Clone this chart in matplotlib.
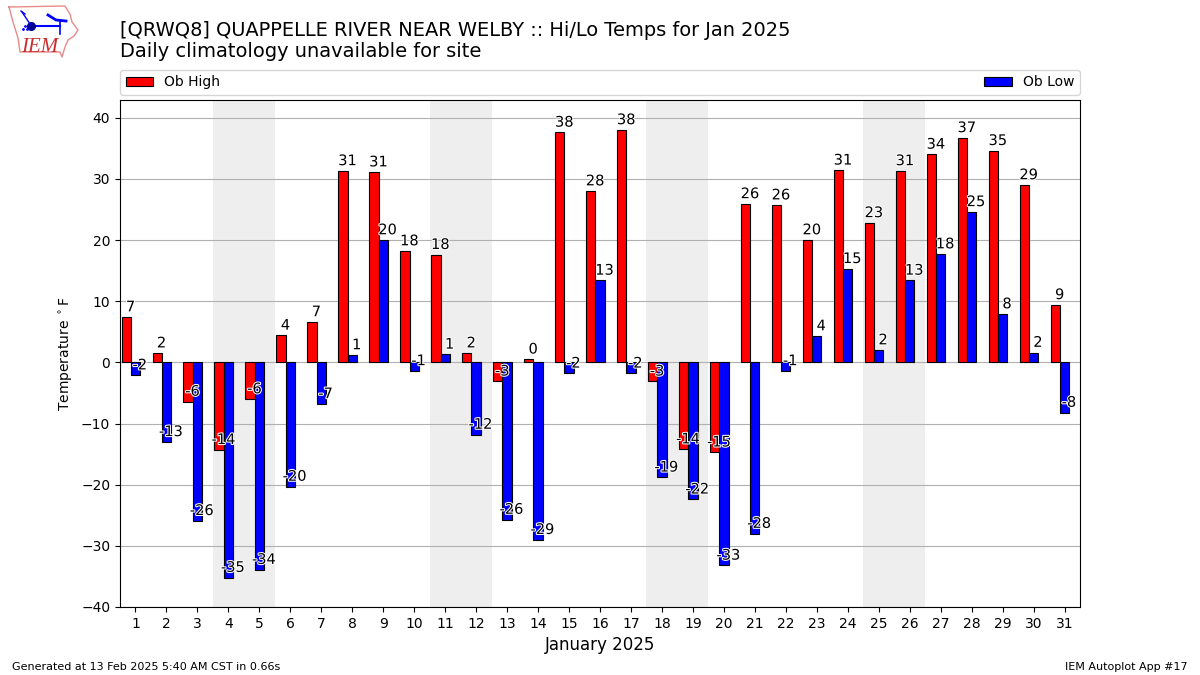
import matplotlib
matplotlib.use("Agg")
import matplotlib.pyplot as plt
import matplotlib.patheffects as pe
import numpy as np

days = list(range(1, 32))
highs = [7.4, 1.5, -6.4, -14.3, -6.0, 4.4, 6.6, 31.3, 31.1, 18.2, 17.6, 1.5, -3.1, 0.5, 37.6, 28.0,
         38.0, -3.1, -14.2, -14.7, 25.9, 25.7, 20.0, 31.4, 22.8, 31.3, 34.0, 36.7, 34.6, 29.0, 9.4]
lows = [-2.1, -13.0, -25.9, -35.2, -33.9, -20.3, -6.8, 1.2, 20.0, -1.4, 1.3, -11.8, -25.7, -29.0, -1.8, 13.4,
        -1.8, -18.8, -22.4, -33.2, -28.0, -1.4, 4.3, 15.3, 2.0, 13.4, 17.7, 24.6, 7.9, 1.6, -8.2]
weekend_spans = [(3.5, 5.5), (10.5, 12.5), (17.5, 19.5), (24.5, 26.5)]
title_lines = ["[QRWQ8] QUAPPELLE RIVER NEAR WELBY :: Hi/Lo Temps for Jan 2025",
               "Daily climatology unavailable for site"]

fig = plt.figure(figsize=(12, 6.75), dpi=100)
ax = fig.add_axes([120/1200, 1-607/675, 960/1200, 507/675])
x = np.array(days)
width = 0.3
for a, b in weekend_spans:
    ax.axvspan(a, b, color="#EEEEEE", zorder=0, lw=0)
ax.set_axisbelow(True)
ax.yaxis.grid(True, color="#b0b0b0", lw=0.8, zorder=1)
ax.bar(x - 0.3, highs, width, color="red", edgecolor="black", lw=0.8, label="Ob High", zorder=2)
ax.bar(x, lows, width, color="blue", edgecolor="black", lw=0.8, label="Ob Low", zorder=2)

stroke = [pe.withStroke(linewidth=1.5, foreground="white")]
for xs, vals in ((x - 0.3, highs), (x, lows)):
    for xi, v in zip(xs, vals):
        t = ax.annotate(f"{v:.0f}", (xi, v), xytext=(3.2, 2), textcoords="offset points",
                        ha="center", va="bottom", fontsize=10.5, color="black", zorder=5)
        t.set_path_effects(stroke)

ax.set_xlim(0.5, 31.5)
ax.set_ylim(-40, 42.9)
ax.set_xticks(days)
ax.set_yticks(range(-40, 41, 10))
ax.tick_params(labelsize=10)
ax.set_xlabel("January 2025", fontsize=12)
ax.set_ylabel(r"Temperature $^\circ$F", fontsize=10)
ax.legend(loc="lower left", bbox_to_anchor=(0, 1.01, 1, 0.05), mode="expand", ncol=2,
          fontsize=10, borderaxespad=0)

fig.text(120/1200, 1-35.5/675, title_lines[0], fontsize=13.97, ha="left", va="baseline")
fig.text(120/1200, 1-57/675, title_lines[1], fontsize=13.97, ha="left", va="baseline")
fig.text(12/1200, 1-670/675, "Generated at 13 Feb 2025 5:40 AM CST in 0.66s", fontsize=8, ha="left", va="baseline")
fig.text(1188/1200, 1-670/675, "IEM Autoplot App #17", fontsize=8, ha="right", va="baseline")

# logo
logo = fig.add_axes([0, 1-60/675, 90/1200, 60/675])
logo.set_xlim(0, 90); logo.set_ylim(60, 0); logo.axis("off")
logo.plot([9, 65, 70, 72, 78, 74, 68, 65, 62, 60, 20, 18, 13, 9],
          [7, 6, 14, 22, 30, 36, 40, 47, 57, 52, 52, 38, 22, 7], color="#e88a8a", lw=1)
logo.plot([31, 60], [26, 26], color="blue", lw=1.5)
logo.plot([31], [26], "o", color="#000090", ms=5.5)
logo.plot([48, 56, 66], [15, 20, 21], color="blue", lw=2)
logo.plot([60, 60], [21, 34], color="blue", lw=1.2)
logo.plot([22, 30], [12, 24], color="blue", lw=1)
logo.plot([21, 25], [11, 14], color="blue", lw=1)
logo.plot([23, 25, 27], [29, 26, 29], ".", color="blue", ms=2)
logo.text(21, 52, "IEM", color="#c83030", fontsize=15, family="Liberation Serif", style="italic")

fig.savefig("out.png", dpi=100)
